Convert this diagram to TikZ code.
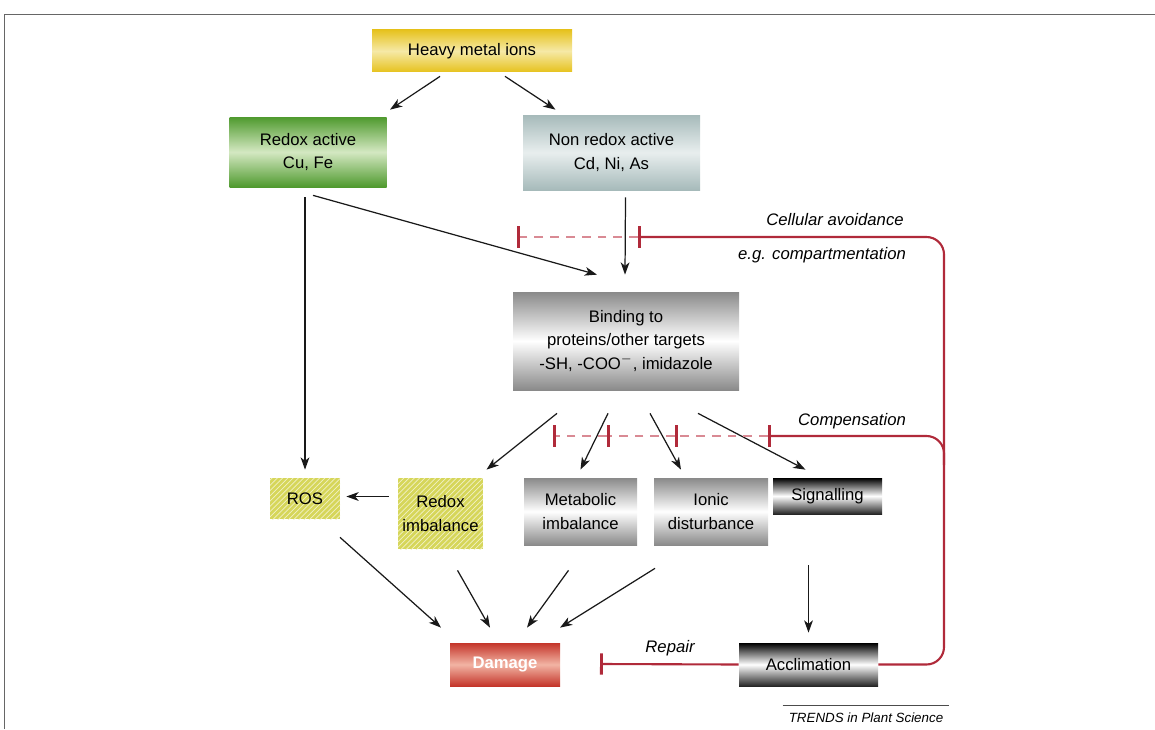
\documentclass[tikz,border=0pt]{standalone}
\usepackage{fontspec}
\setmainfont{Liberation Sans}
\usepackage{tikz}
\usetikzlibrary{arrows.meta,positioning,patterns,calc}
\definecolor{hmGold}{HTML}{E6C21E}
\definecolor{hmGoldLight}{HTML}{F6E9A6}
\definecolor{hmGreen}{HTML}{4F9A2E}
\definecolor{hmGreenLight}{HTML}{D4E8C2}
\definecolor{hmSlate}{HTML}{A6BABA}
\definecolor{hmSlateLight}{HTML}{E8EEEE}
\definecolor{hmGrey}{HTML}{8A8A8A}
\definecolor{hmHatch}{HTML}{D6D65A}
\definecolor{hmRed}{HTML}{C4352A}
\definecolor{hmRedLight}{HTML}{F2B4A4}
\definecolor{hmLine}{HTML}{B02A3A}
\definecolor{hmLineLight}{HTML}{D98A94}
\tikzset{
    every picture/.style={
        font=\fontsize{9.5}{13.5}\selectfont,
        >={Stealth[length=7pt,width=5pt,inset=2pt]}
    },
    % box styles
    metalbox/.style={rectangle,draw=none,align=center,inner sep=2pt},
    gradbox/.style={metalbox,top color=#1,bottom color=#1,middle color=white},
    darkbox/.style={metalbox,top color=black,bottom color=black!85,middle color=white},
    hatchbox/.style={metalbox,fill=hmHatch,postaction={pattern=north east lines,pattern color=hmHatch!35}}
}

\begin{document}
\begin{tikzpicture}[
    dataflow/.style={->,line width=0.7pt,black!90},
    inhibit/.style={-{Bar[width=12pt,line width=1.6pt]},line width=1.2pt,hmLine},
    inhibitweak/.style={-{Bar[width=12pt,line width=1.6pt,color=hmLine]},line width=1.2pt,hmLineLight,dash pattern=on 5pt off 4pt},
    note/.style={font=\fontsize{9.5}{12}\selectfont\itshape}
]
    \useasboundingbox (0,0) rectangle (23.1,-14.58);
    \draw[black!60,line width=1pt] (0.09,-14.58) |- (23.1,-0.29);

    % Metal ions
    \node[metalbox, top color=hmGold, bottom color=hmGold, middle color=hmGoldLight,
          minimum width=4cm, minimum height=0.84cm] (metal) at (9.44,-1.02) {Heavy metal ions};
    \node[metalbox, top color=hmGreen, bottom color=hmGreen, middle color=hmGreenLight,
          minimum width=3.14cm, minimum height=1.4cm] (redox) at (6.16,-3.04) {Redox active\\Cu, Fe};
    \node[metalbox, top color=hmSlate, bottom color=hmSlate, middle color=hmSlateLight,
          minimum width=3.54cm, minimum height=1.5cm] (nonredox) at (12.23,-3.05) {Non redox active\\Cd, Ni, As};

    % Binding
    \node[gradbox=hmGrey, minimum width=4.52cm, minimum height=1.96cm] (binding) at (12.52,-6.82)
        {Binding to\\proteins/other targets\\-SH, -COO$^{-}$, imidazole};

    % Effects
    \node[hatchbox, minimum width=1.4cm, minimum height=0.82cm] (ros) at (6.1,-9.97) {ROS};
    \node[hatchbox, minimum width=1.7cm, minimum height=1.42cm] (redoximb) at (8.81,-10.27) {Redox\\imbalance};
    \node[gradbox=hmGrey, minimum width=2.26cm, minimum height=1.34cm] (metab) at (11.61,-10.23) {Metabolic\\imbalance};
    \node[gradbox=hmGrey, minimum width=2.28cm, minimum height=1.34cm] (ionic) at (14.22,-10.23) {Ionic\\disturbance};
    \node[darkbox, minimum width=2.18cm, minimum height=0.72cm] (signal) at (16.55,-9.92) {Signalling};

    % Outcome
    \node[metalbox, top color=hmRed, bottom color=hmRed, middle color=hmRedLight, text=white,
          font=\fontsize{9.5}{12}\selectfont\bfseries,
          minimum width=2.2cm, minimum height=0.86cm] (damage) at (10.1,-13.29) {Damage};
    \node[darkbox, minimum width=2.78cm, minimum height=0.86cm] (acclim) at (16.17,-13.29) {Acclimation};

    % Responses
    \coordinate (rt) at (18.88,-4.74);
    \coordinate (avoidA) at (12.76,-4.74);
    \coordinate (avoidB) at (10.34,-4.74);
    \coordinate (cj) at (18.88,-9.3);
    \coordinate (compA) at (15.36,-8.72);
    \coordinate (compB) at (13.5,-8.72);
    \coordinate (compC) at (12.14,-8.72);
    \coordinate (compD) at (11.06,-8.72);
    \coordinate (repairA) at (12.0,-13.28);

    \node[note] (avoidtxt) at (16.7,-4.4) {Cellular avoidance};
    \node[note] (comparttxt) at (16.44,-5.1) {e.g. compartmentation};
    \node[note] (comptxt) at (17.04,-8.42) {Compensation};
    \node[note] (repairtxt) at (13.4,-12.96) {Repair};

    % Connections
    \draw[dataflow] ([xshift=-0.64cm,yshift=-0.08cm]metal.south) -- ([xshift=1.64cm,yshift=0.14cm]redox.north);
    \draw[dataflow] ([xshift=0.66cm,yshift=-0.08cm]metal.south) -- ([xshift=-1.12cm,yshift=0.1cm]nonredox.north);
    \draw[dataflow] ([xshift=-0.06cm,yshift=-0.2cm]redox.south) -- ([yshift=0.16cm]ros.north);
    \draw[dataflow] ([xshift=0.1cm,yshift=-0.16cm]redox.south) -- ([xshift=-0.58cm,yshift=0.34cm]binding.north);
    \draw[dataflow] ([xshift=0.28cm,yshift=-0.14cm]nonredox.south) -- ([xshift=-0.02cm,yshift=0.34cm]binding.north);
    \draw[dataflow] ([xshift=-1.38cm,yshift=-0.46cm]binding.south) -- ([xshift=0.92cm,yshift=0.16cm]redoximb.north);
    \draw[dataflow] ([xshift=-0.36cm,yshift=-0.46cm]binding.south) -- ([yshift=0.16cm]metab.north);
    \draw[dataflow] ([xshift=0.48cm,yshift=-0.46cm]binding.south) -- ([xshift=-0.6cm,yshift=0.16cm]ionic.north);
    \draw[dataflow] ([xshift=1.44cm,yshift=-0.46cm]binding.south) -- ([xshift=-0.44cm,yshift=0.16cm]signal.north);
    \draw[dataflow] ([xshift=-0.18cm,yshift=0.34cm]redoximb.west) -- ([xshift=0.12cm,yshift=0.04cm]ros.east);
    \draw[dataflow] ([xshift=0.7cm,yshift=-0.36cm]ros.south) -- ([xshift=-1.28cm,yshift=0.3cm]damage.north);
    \draw[dataflow] ([xshift=0.34cm,yshift=-0.42cm]redoximb.south) -- ([xshift=-0.3cm,yshift=0.3cm]damage.north);
    \draw[dataflow] ([xshift=-0.24cm,yshift=-0.5cm]metab.south) -- ([xshift=0.44cm,yshift=0.3cm]damage.north);
    \draw[dataflow] ([xshift=-1.12cm,yshift=-0.46cm]ionic.south) -- ([xshift=1.1cm,yshift=0.3cm]damage.north);
    \draw[dataflow] ([xshift=-0.38cm,yshift=-1.02cm]signal.south) -- ([yshift=0.2cm]acclim.north);

    \draw[inhibit, rounded corners=0.35cm] (acclim.east) -| (rt) -- (avoidA);
    \draw[inhibitweak] (avoidA) -- (avoidB);
    \draw[inhibit, rounded corners=0.35cm] (cj) |- (compA);
    \draw[inhibitweak] (compA) -- (compB);
    \draw[inhibitweak] (compB) -- (compC);
    \draw[inhibitweak] (compC) -- (compD);
    \draw[inhibit] (acclim.west) -- (repairA);

    % Source
    \node[font=\fontsize{7.6}{9}\selectfont\itshape] (trends) at (17.32,-14.36) {TRENDS in Plant Science};
    \draw[black!70,line width=0.5pt] ([yshift=0.02cm]trends.north west) -- ([yshift=0.02cm]trends.north east);

\end{tikzpicture}
\end{document}
